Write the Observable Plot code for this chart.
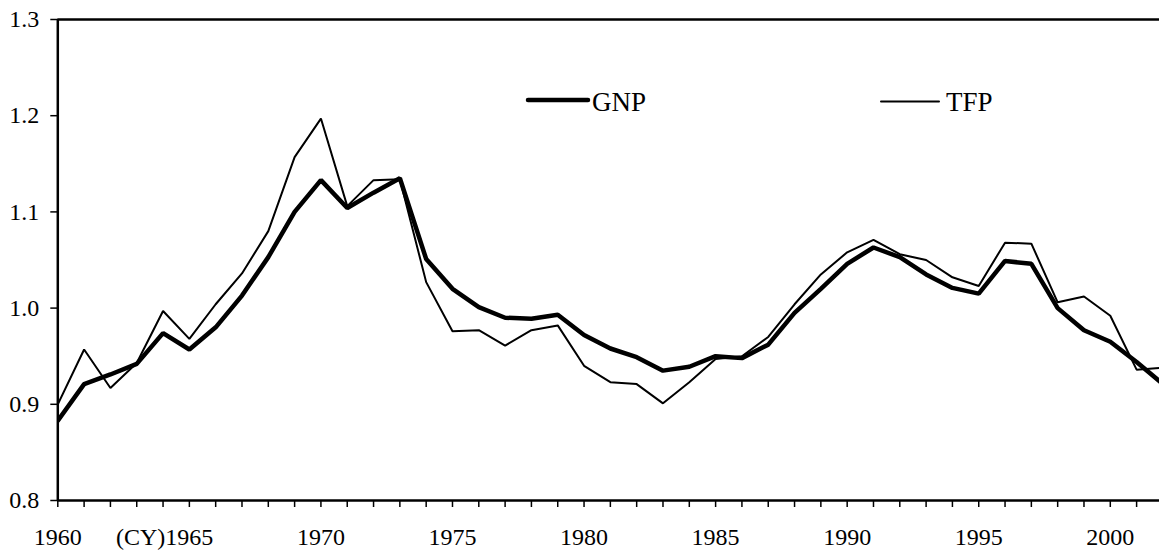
<!DOCTYPE html>
<html>
<head>
<meta charset="utf-8">
<script src="https://cdn.jsdelivr.net/npm/d3@7"></script>
<script src="https://cdn.jsdelivr.net/npm/@observablehq/plot@0.6"></script>
<style>
  html, body { margin: 0; padding: 0; background: #fff; overflow: hidden; }
  #wrap { position: relative; width: 1159px; height: 557px; font-family: "Liberation Serif", "Times New Roman", serif; }
  #legend { position: absolute; left: 0; top: 0; pointer-events: none; }
</style>
</head>
<body>
<div id="wrap"></div>
<script>
const years = d3.range(1960, 2003);
const gnp = [0.883, 0.921, 0.931, 0.942, 0.974, 0.957, 0.980, 1.013, 1.053, 1.100,
             1.133, 1.104, 1.120, 1.135, 1.051, 1.020, 1.001, 0.990, 0.989, 0.993,
             0.972, 0.958, 0.949, 0.935, 0.939, 0.950, 0.948, 0.962, 0.995, 1.020,
             1.046, 1.063, 1.053, 1.035, 1.021, 1.015, 1.049, 1.046, 1.000, 0.977,
             0.965, 0.944, 0.921];
const tfp = [0.900, 0.957, 0.917, 0.943, 0.997, 0.968, 1.004, 1.036, 1.080, 1.157,
             1.197, 1.106, 1.133, 1.134, 1.027, 0.976, 0.977, 0.961, 0.977, 0.982,
             0.940, 0.923, 0.921, 0.901, 0.923, 0.947, 0.950, 0.970, 1.004, 1.035,
             1.058, 1.071, 1.056, 1.050, 1.032, 1.023, 1.068, 1.067, 1.006, 1.012,
             0.992, 0.936, 0.938];
const yTicks = [0.8, 0.9, 1.0, 1.1, 1.2, 1.3];
const seriesNames = ["GNP", "TFP"];
const unitLabel = "(CY)";

const rows = years.map((y, i) => ({year: y, gnp: gnp[i], tfp: tfp[i]}));
const FONT = "'Liberation Serif', 'Times New Roman', serif";

const chart = Plot.plot({
  width: 1159,
  height: 557,
  marginLeft: 57.3,
  marginRight: 0,
  marginTop: 19,
  marginBottom: 57,
  style: {fontFamily: FONT, fontSize: "24px", color: "#000", background: "#fff"},
  x: {domain: [1960, 2001.87]},
  y: {domain: [0.8, 1.3]},
  marks: [
    Plot.axisY({ticks: yTicks, tickSize: 7, tickPadding: 11.5, tickFormat: d => d.toFixed(1), strokeWidth: 1.5, fontSize: 24, fontFamily: FONT, label: null}),
    Plot.axisX({ticks: years, tickSize: 7, tickPadding: 20, tickFormat: d => d % 5 === 0 ? String(d) : "", strokeWidth: 1.5, fontSize: 24, fontFamily: FONT, label: null}),
    Plot.text([{year: 1965, v: 0.8}], {x: "year", y: "v", text: () => unitLabel, textAnchor: "end", lineAnchor: "top", dx: -24, dy: 27, fontSize: 24, fontFamily: FONT}),
    Plot.lineY(rows, {x: "year", y: "tfp", stroke: "#000", strokeWidth: 2, strokeLinejoin: "miter", clip: true}),
    Plot.lineY(rows, {x: "year", y: "gnp", stroke: "#000", strokeWidth: 4.5, strokeLinejoin: "miter", clip: true}),
    Plot.ruleY([0.8, 1.3], {stroke: "#000", strokeWidth: 2.5}),
    Plot.ruleX([1960], {stroke: "#000", strokeWidth: 2.5})
  ]
});
const wrap = document.getElementById("wrap");
wrap.appendChild(chart);

// legend overlay
const ns = "http://www.w3.org/2000/svg";
const leg = document.createElementNS(ns, "svg");
leg.setAttribute("id", "legend");
leg.setAttribute("width", 1159);
leg.setAttribute("height", 557);
const items = [
  {name: seriesNames[0], sw: 4.5, x1: 528, x2: 588, y: 100, tx: 592, ty: 111},
  {name: seriesNames[1], sw: 2, x1: 881, x2: 939, y: 101.5, tx: 946, ty: 111}
];
for (const it of items) {
  const l = document.createElementNS(ns, "line");
  l.setAttribute("x1", it.x1); l.setAttribute("x2", it.x2);
  l.setAttribute("y1", it.y); l.setAttribute("y2", it.y);
  l.setAttribute("stroke", "#000"); l.setAttribute("stroke-width", it.sw);
  l.setAttribute("stroke-linecap", "round");
  leg.appendChild(l);
  const t = document.createElementNS(ns, "text");
  t.setAttribute("x", it.tx); t.setAttribute("y", it.ty);
  t.setAttribute("font-family", FONT); t.setAttribute("font-size", 27);
  t.setAttribute("fill", "#000");
  t.textContent = it.name;
  leg.appendChild(t);
}
wrap.appendChild(leg);
</script>
</body>
</html>
